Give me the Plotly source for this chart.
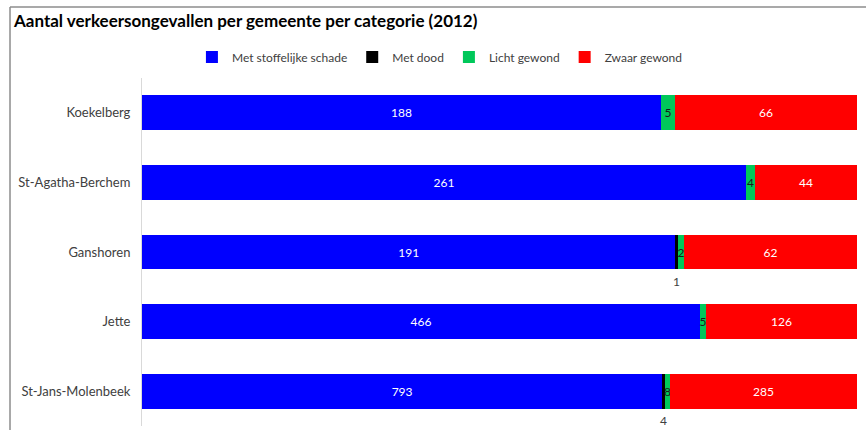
import plotly.graph_objects as go

# Verkeersongevallen per gemeente (2012)
gemeenten = ["Koekelberg", "St-Agatha-Berchem", "Ganshoren", "Jette", "St-Jans-Molenbeek"]
stoffelijke_schade = [188, 261, 191, 466, 793]
met_dood = [0, 0, 1, 0, 4]
licht_gewond = [5, 4, 2, 5, 8]
zwaar_gewond = [66, 44, 62, 126, 285]

FONT = "Lato, 'Open Sans', sans-serif"
TXT = "#404040"

series = [
    ("Met stoffelijke schade", stoffelijke_schade, "#0000ff", "#ffffff"),
    ("Met dood", met_dood, "#000000", "#000000"),
    ("Licht gewond", licht_gewond, "#00c85a", "#1a1a1a"),
    ("Zwaar gewond", zwaar_gewond, "#ff0000", "#ffffff"),
]

fig = go.Figure()
for name, vals, color, tcolor in series:
    # "Met dood" values are written below the bar instead of inside it
    show = name != "Met dood"
    fig.add_trace(go.Bar(
        y=gemeenten, x=vals, orientation="h", name=name,
        marker=dict(color=color, line=dict(width=0)),
        text=[str(v) if (v > 0 and show) else "" for v in vals],
        textposition="inside", insidetextanchor="middle",
        constraintext="none",
        textfont=dict(family=FONT, size=12, color=tcolor),
        hoverinfo="x+y+name",
    ))

# labels for the "Met dood" segments, centred under their slice
annotations = []
for i, g in enumerate(gemeenten):
    if met_dood[i] > 0:
        total = stoffelijke_schade[i] + met_dood[i] + licht_gewond[i] + zwaar_gewond[i]
        xc = (stoffelijke_schade[i] + met_dood[i] / 2) / total * 100
        annotations.append(dict(
            x=xc, y=g, xref="x", yref="y", text=str(met_dood[i]),
            showarrow=False, yshift=-29,
            font=dict(family=FONT, size=12, color=TXT),
        ))

# outer frame (top and left edge)
shapes = [
    dict(type="line", xref="paper", yref="paper", x0=-0.1846, x1=1.02, y0=1.204, y1=1.204,
         line=dict(color="#8c8c8c", width=1.5)),
    dict(type="line", xref="paper", yref="paper", x0=-0.1846, x1=-0.1846, y0=1.204, y1=-0.02,
         line=dict(color="#8c8c8c", width=1.5)),
]

fig.update_layout(
    barmode="stack", barnorm="percent", bargap=0.5,
    width=866, height=430,
    margin=dict(l=142, r=9, t=78, b=4),
    paper_bgcolor="white", plot_bgcolor="white",
    font=dict(family=FONT, size=13, color=TXT),
    title=dict(
        text="<b>Aantal verkeersongevallen per gemeente per categorie (2012)</b>",
        x=14 / 866, xanchor="left", xref="container",
        y=1 - 21 / 430, yanchor="middle", yref="container",
        font=dict(family=FONT, size=17, color="#000000"),
    ),
    legend=dict(
        orientation="h", xref="container", yref="container",
        x=0.508, xanchor="center", y=1 - 57 / 430, yanchor="middle",
        font=dict(family=FONT, size=12, color=TXT),
        traceorder="normal", itemclick=False, itemwidth=30,
    ),
    xaxis=dict(visible=False, range=[0, 100], fixedrange=True),
    yaxis=dict(
        autorange="reversed", showgrid=False, zeroline=False,
        showline=True, linecolor="#d9d9d9", linewidth=1,
        ticks="", ticklabelstandoff=8,
        tickfont=dict(family=FONT, size=13, color=TXT),
    ),
    annotations=annotations,
    shapes=shapes,
    showlegend=True,
)

fig.write_html("out.html")
